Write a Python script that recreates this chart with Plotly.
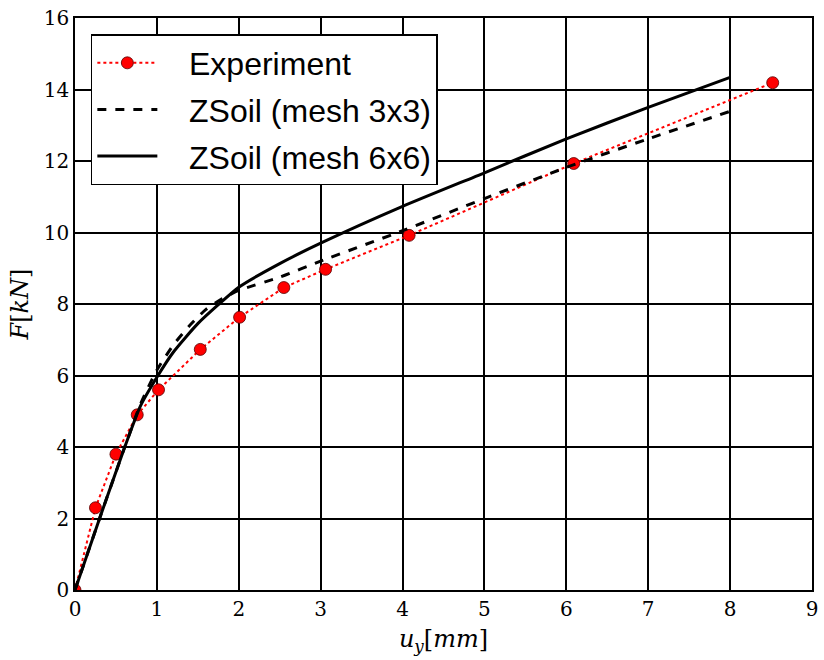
import plotly.graph_objects as go

exp_x = [0, 0.25, 0.5, 0.76, 1.02, 1.53, 2.01, 2.55, 3.06, 4.08, 6.09, 8.52]
exp_y = [0, 2.3, 3.8, 4.9, 5.6, 6.73, 7.63, 8.46, 8.97, 9.92, 11.93, 14.19]

m3_x = [0, 0.3, 0.6, 0.8, 1.0, 1.2, 1.4, 1.6, 1.8, 2.0, 2.5, 3, 4, 5, 6, 7, 8]
m3_y = [0, 2.0, 3.95, 5.2, 6.15, 6.85, 7.4, 7.85, 8.15, 8.38, 8.75, 9.2, 10.05, 10.95, 11.82, 12.62, 13.39]

m6_x = [0, 0.3, 0.6, 0.8, 1.0, 1.2, 1.5, 1.75, 2.0, 2.5, 3, 4, 5, 6, 7, 8]
m6_y = [0, 2.0, 3.95, 5.15, 5.95, 6.65, 7.45, 7.98, 8.47, 9.13, 9.7, 10.73, 11.67, 12.62, 13.5, 14.34]

x_ticks = list(range(0, 10))
y_ticks = list(range(0, 17, 2))

pad = "\u00a0" * 3

fig = go.Figure()
fig.add_trace(go.Scatter(
    x=exp_x, y=exp_y, mode="lines+markers", name=pad + "Experiment", legendgroup="a",
    line=dict(color="#ff0000", width=2, dash="dot"),
    marker=dict(symbol="circle", size=12, color="#ff0000",
                line=dict(color="#550000", width=0.8)),
))
fig.add_trace(go.Scatter(
    x=m3_x, y=m3_y, mode="lines", name=pad + "ZSoil (mesh 3x3)", legendgroup="b",
    line=dict(color="black", width=3, dash="dash", shape="spline", smoothing=0.6),
))
fig.add_trace(go.Scatter(
    x=m6_x, y=m6_y, mode="lines", name=pad + "ZSoil (mesh 6x6)", legendgroup="c",
    line=dict(color="black", width=3, shape="spline", smoothing=0.6),
))

axis_common = dict(
    showgrid=True, gridcolor="black", gridwidth=1.5,
    showline=True, linecolor="black", linewidth=1.5, mirror=True,
    zeroline=False, ticks="inside", ticklen=6, tickcolor="black",
    tickfont=dict(family="DejaVu Serif", size=20, color="black"),
)

fig.update_layout(
    width=824, height=660,
    margin=dict(l=75, r=6, t=17, b=70),
    paper_bgcolor="white", plot_bgcolor="white",
    xaxis=dict(range=[0, 9], tickvals=x_ticks,
               title=dict(text="<i>u</i><sub><i>y</i></sub>[<i>mm</i>]",
                          font=dict(family="DejaVu Serif", size=24, color="black"),
                          standoff=10),
               **axis_common),
    yaxis=dict(range=[0, 16], tickvals=y_ticks,
               title=dict(text="<i>F</i>[<i>kN</i>]",
                          font=dict(family="DejaVu Serif", size=24, color="black"),
                          standoff=8),
               **axis_common),
    legend=dict(x=0.0215, y=0.972, xanchor="left", yanchor="top",
                bgcolor="white", bordercolor="black", borderwidth=1.5,
                font=dict(family="Liberation Sans", size=32, color="black"),
                tracegroupgap=2, itemwidth=60),
    showlegend=True,
)

fig.write_html("out.html")
